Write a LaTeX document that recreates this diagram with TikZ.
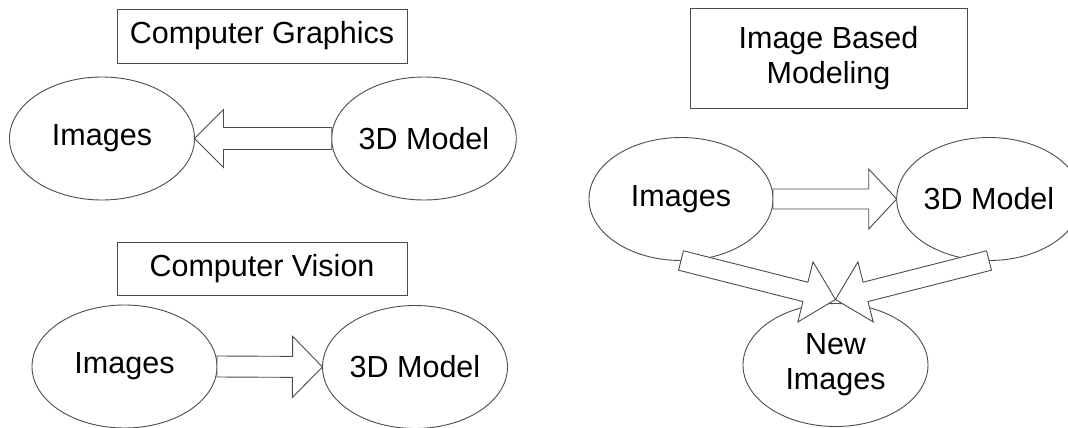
\documentclass[tikz,border=0pt]{standalone}
\usepackage{fontspec}
\setmainfont{Liberation Sans}
\usetikzlibrary{shapes.geometric,calc}

\tikzset{
  lbl/.style={font=\fontsize{30.5}{35}\selectfont, text=black, align=center},
  blob/.style={lbl, ellipse, draw=black!70, line width=0.9pt, inner sep=0pt,
    outer sep=0pt, minimum width=185pt, minimum height=123pt},
  titlebox/.style={lbl, rectangle, draw=black!70, line width=0.9pt, inner sep=0pt,
    outer sep=0pt},
  blockline/.style={draw=black!70, fill=white, line width=0.9pt, line join=miter}
}

% Hollow block arrow: #1 tail, #2 tip, #3 shaft half width,
% #4 head length, #5 head half width
\newcommand\blockarrow[5]{%
  \coordinate (ba-h) at ($(#2)!#4!(#1)$);
  \draw[blockline]
    ($(#1)!#3!90:(#2)$) -- ($(ba-h)!#3!90:(#2)$) -- ($(ba-h)!#5!90:(#2)$)
    -- (#2)
    -- ($(ba-h)!#5!-90:(#2)$) -- ($(ba-h)!#3!-90:(#2)$) -- ($(#1)!#3!-90:(#2)$)
    -- cycle;
}

\begin{document}
\begin{tikzpicture}[x=1pt,y=-1pt]
  \useasboundingbox (0,0) rectangle (1068,428);
  \fill[white] (0,0) rectangle (1068,428);
  \clip (0,0) rectangle (1068,428);

  % Computer graphics: model to images
  \node[titlebox, minimum width=290pt, minimum height=54pt] (cg) at (262,36) {Computer Graphics};
  \node[blob] (cgimg) at (102,138.5) {Images};
  \node[blob, minimum width=182pt] (cgmod) at (424,138.5) {3D Model};
  \blockarrow{cgmod.west}{cgimg.east}{11pt}{29pt}{29pt}

  % Computer vision: images to model
  \node[titlebox, minimum width=290pt, minimum height=53pt] (cv) at (262,268.5) {Computer Vision};
  \node[blob] (cvimg) at (124.5,366.5) {Images};
  \node[blob] (cvmod) at (415,367) {3D Model};
  \blockarrow{cvimg.east}{cvmod.west}{10.5pt}{30pt}{30.5pt}

  % Image based modeling: images and model to new images
  \node[titlebox, minimum width=277pt, minimum height=100pt] (ibm) at (828.5,58) {Image Based\\Modeling};
  \node[blob, minimum width=184pt] (ibimg) at (681,199) {Images};
  \node[blob, minimum width=184pt] (ibmod) at (989,199) {3D Model};
  \node[blob] (ibnew) at (835.5,365) {New\\Images};
  \blockarrow{ibimg.east}{ibmod.west}{10pt}{28pt}{30pt}
  \coordinate (ibmeet) at ([yshift=4pt]ibnew.north);
  \blockarrow{ibimg.south}{ibmeet}{10pt}{31pt}{31pt}
  \blockarrow{ibmod.south}{ibmeet}{10pt}{31pt}{31pt}
\end{tikzpicture}
\end{document}
